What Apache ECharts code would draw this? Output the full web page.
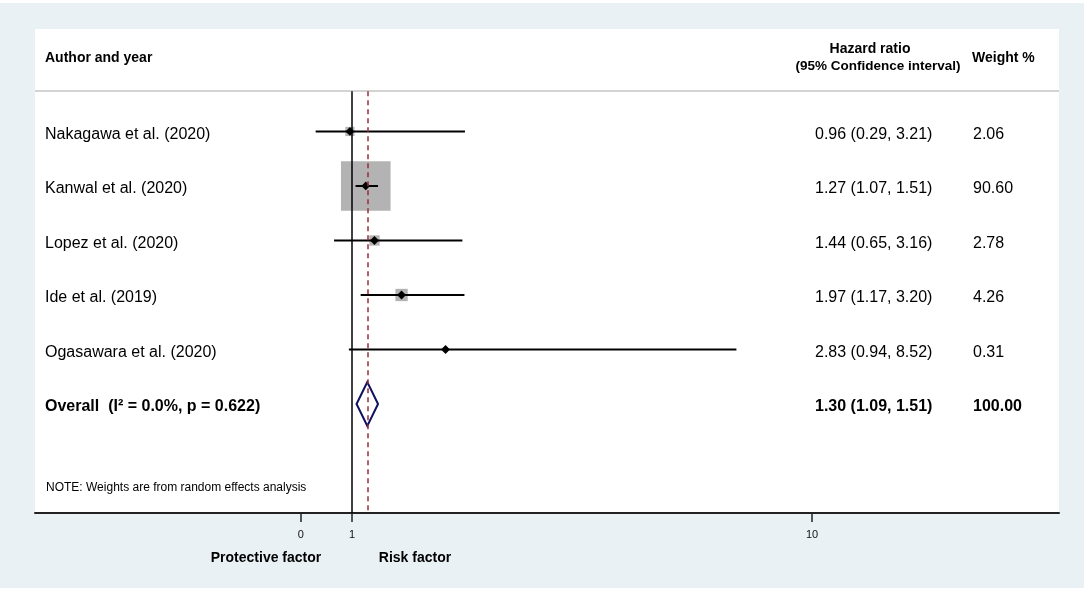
<!DOCTYPE html>
<html>
<head>
<meta charset="utf-8">
<title>Forest plot</title>
<script src="https://cdn.jsdelivr.net/npm/echarts@6/dist/echarts.min.js"></script>
<style>
  html, body { margin: 0; padding: 0; background: #fff; }
  #chart { width: 1084px; height: 591px; }
</style>
</head>
<body>
<div id="chart"></div>
<script>
// study rows
const studies = ['Nakagawa et al. (2020)', 'Kanwal et al. (2020)', 'Lopez et al. (2020)', 'Ide et al. (2019)', 'Ogasawara et al. (2020)'];
const hazard = [0.96, 1.27, 1.44, 1.97, 2.83];
const ciLow = [0.29, 1.07, 0.65, 1.17, 0.94];
const ciHigh = [3.21, 1.51, 3.16, 3.20, 8.52];
const weights = [2.06, 90.60, 2.78, 4.26, 0.31];

// pooled estimate
const overallLabel = 'Overall  (I\u00b2 = 0.0%, p = 0.622)';
const overallHazard = 1.30;
const overallCi = [1.09, 1.51];
const overallWeight = 100.00;

const xTicks = [0, 1, 10];

const FONT = "'Liberation Sans', Arial, sans-serif";

function fmt(v) { return v.toFixed(2); }
function ciText(h, lo, hi) { return fmt(h) + ' (' + fmt(lo) + ', ' + fmt(hi) + ')'; }

let studyData = studies.map(function (s, i) {
    return [hazard[i], i, ciLow[i], ciHigh[i], weights[i]];
});
let overallRow = studies.length;

// text rows: label, CI text, weight
let textRows = studies.map(function (s, i) {
    return { value: [0, i], label: s, ci: ciText(hazard[i], ciLow[i], ciHigh[i]), w: fmt(weights[i]), bold: false };
});
textRows.push({ value: [0, overallRow], label: overallLabel, ci: ciText(overallHazard, overallCi[0], overallCi[1]), w: fmt(overallWeight), bold: true });

let chart = echarts.init(document.getElementById('chart'), null, { renderer: 'canvas' });

let option = {
    backgroundColor: '#e9f1f4',
    animation: false,
    textStyle: { fontFamily: FONT },
    grid: {
        left: 35, right: 25, top: 29, bottom: 78,
        show: true, backgroundColor: '#fff', borderWidth: 0
    },
    xAxis: {
        type: 'value',
        min: -5.2,
        max: 14.83,
        splitLine: { show: false },
        axisLine: { show: true, onZero: false, lineStyle: { color: '#222', width: 2 } },
        axisTick: { show: true, customValues: xTicks, length: 9, lineStyle: { color: '#222', width: 1.5 } },
        axisLabel: { customValues: xTicks, color: '#111', fontSize: 11, fontFamily: FONT, margin: 16 }
    },
    yAxis: {
        type: 'value',
        inverse: true,
        min: -1.88,
        max: 7,
        show: false
    },
    graphic: [
        { type: 'rect', silent: true, shape: { x: 0, y: 0, width: 1084, height: 3 }, style: { fill: '#fff' } },
        { type: 'rect', silent: true, shape: { x: 0, y: 588, width: 1084, height: 3 }, style: { fill: '#fff' } },
        { type: 'line', silent: true, z: 5, shape: { x1: 35, y1: 91, x2: 1059, y2: 91 }, style: { stroke: '#c4c4c4', lineWidth: 1.5 } },
        { type: 'text', silent: true, z: 5, x: 45, y: 58, style: { text: 'Author and year', font: 'bold 14px ' + FONT, fill: '#000', textVerticalAlign: 'middle' } },
        { type: 'text', silent: true, z: 5, x: 870, y: 49, style: { text: 'Hazard ratio', font: 'bold 14px ' + FONT, fill: '#000', textAlign: 'center', textVerticalAlign: 'middle' } },
        { type: 'text', silent: true, z: 5, x: 878, y: 66, style: { text: '(95% Confidence interval)', font: 'bold 13.5px ' + FONT, fill: '#000', textAlign: 'center', textVerticalAlign: 'middle' } },
        { type: 'text', silent: true, z: 5, x: 972, y: 58, style: { text: 'Weight %', font: 'bold 14px ' + FONT, fill: '#000', textVerticalAlign: 'middle' } },
        { type: 'text', silent: true, z: 5, x: 46, y: 488, style: { text: 'NOTE: Weights are from random effects analysis', font: '12px ' + FONT, fill: '#000', textVerticalAlign: 'middle' } },
        { type: 'text', silent: true, z: 5, x: 266, y: 558, style: { text: 'Protective factor', font: 'bold 14px ' + FONT, fill: '#000', textAlign: 'center', textVerticalAlign: 'middle' } },
        { type: 'text', silent: true, z: 5, x: 415, y: 558, style: { text: 'Risk factor', font: 'bold 14px ' + FONT, fill: '#000', textAlign: 'center', textVerticalAlign: 'middle' } }
    ],
    series: [
        {
            // reference lines: no effect and pooled estimate
            type: 'scatter',
            data: [],
            z: 1,
            silent: true,
            markLine: {
                silent: true,
                symbol: 'none',
                label: { show: false },
                animation: false,
                data: [
                    [{ coord: [1, -0.74], lineStyle: { color: '#000', width: 1.5, type: 'solid' } }, { coord: [1, 7] }],
                    [{ coord: [overallHazard, -0.74], lineStyle: { color: '#9b2c38', width: 1.5, type: [5, 4] } }, { coord: [overallHazard, 7] }]
                ]
            }
        },
        {
            type: 'custom',
            z: 3,
            silent: true,
            data: studyData,
            renderItem: function (params, api) {
                let c = api.coord([api.value(0), api.value(1)]);
                let x0 = api.coord([api.value(2), api.value(1)])[0];
                let x1 = api.coord([api.value(3), api.value(1)])[0];
                let s = 5.0 * Math.sqrt(api.value(4)) + 2;
                let d = 4.4;
                return {
                    type: 'group',
                    children: [
                        { type: 'rect', shape: { x: c[0] - s / 2, y: c[1] - s / 2, width: s, height: s }, style: { fill: '#b3b3b3' } },
                        { type: 'line', shape: { x1: x0, y1: c[1], x2: x1, y2: c[1] }, style: { stroke: '#000', lineWidth: 2 } },
                        { type: 'polygon', shape: { points: [[c[0] - d, c[1]], [c[0], c[1] - d], [c[0] + d, c[1]], [c[0], c[1] + d]] }, style: { fill: '#000' } }
                    ]
                };
            }
        },
        {
            // pooled diamond
            type: 'custom',
            z: 3,
            silent: true,
            data: [[overallHazard, overallRow, overallCi[0], overallCi[1]]],
            renderItem: function (params, api) {
                let c = api.coord([api.value(0), api.value(1)]);
                let x0 = api.coord([api.value(2), api.value(1)])[0];
                let x1 = api.coord([api.value(3), api.value(1)])[0];
                let h = 22;
                return {
                    type: 'polygon',
                    shape: { points: [[x0, c[1]], [c[0], c[1] - h], [x1, c[1]], [c[0], c[1] + h]] },
                    style: { fill: 'none', stroke: '#101060', lineWidth: 2 }
                };
            }
        },
        {
            // text columns
            type: 'custom',
            z: 4,
            silent: true,
            data: textRows,
            renderItem: function (params, api) {
                let row = textRows[params.dataIndex];
                let y = api.coord([0, api.value(1)])[1] + 3;
                let font = (row.bold ? 'bold ' : '') + '16px ' + FONT;
                return {
                    type: 'group',
                    children: [
                        { type: 'text', x: 45, y: y, style: { text: row.label, font: font, fill: '#000', textVerticalAlign: 'middle' } },
                        { type: 'text', x: 815, y: y, style: { text: row.ci, font: font, fill: '#000', textVerticalAlign: 'middle' } },
                        { type: 'text', x: 973, y: y, style: { text: row.w, font: font, fill: '#000', textVerticalAlign: 'middle' } }
                    ]
                };
            }
        }
    ]
};
chart.setOption(option);
</script>
</body>
</html>
